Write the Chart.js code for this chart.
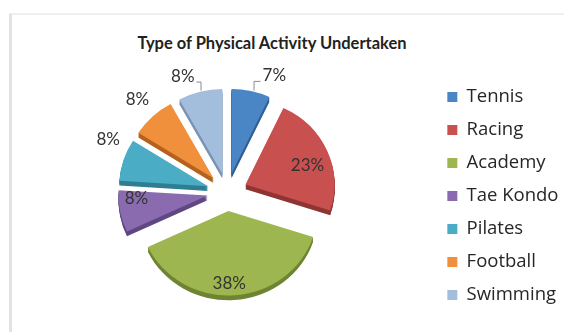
<!DOCTYPE html>
<html>
<head>
<meta charset="utf-8">
<script src="https://cdn.jsdelivr.net/npm/chart.js@4.4.1/dist/chart.umd.min.js"></script>
<style>
  html, body { margin: 0; padding: 0; background: #fff; overflow: hidden; }
  body { width: 564px; height: 332px; position: relative; }
  #frame { position: absolute; left: 9px; top: 13px; width: 560px; height: 330px;
           border-left: 3px solid #e2e2e2; border-top: 2px solid #efefef; box-sizing: border-box; }
  #title { position: absolute; left: 0; top: 33px; width: 544px; text-align: center;
           font: bold 16.5px Lato, 'Open Sans', sans-serif; color: #222; line-height: 20px; }
  #wrap { position: absolute; left: 0; top: 0; width: 580px; height: 332px; }
</style>
</head>
<body>
<div id="frame"></div>
<div id="title">Type of Physical Activity Undertaken</div>
<div id="wrap"><canvas id="c" width="580" height="332"></canvas></div>
<script>
const categories = ["Tennis", "Racing", "Academy", "Tae Kondo", "Pilates", "Football", "Swimming"];
const values = [7, 23, 38, 8, 8, 8, 8];
const valueLabels = ["7%", "23%", "38%", "8%", "8%", "8%", "8%"];
const colors = ["#4a86c5", "#c8504f", "#9db64f", "#8a6bb0", "#4bacc6", "#f0903c", "#a3bedd"];
const sideColors = ["#2f5f94", "#8e3432", "#6f8433", "#5f4781", "#2e7d92", "#b5621f", "#7b93b3"];

// label placement style: distance factor (of radius) and small angular nudge (degrees)
const labelStyle = [
  {dist: 1.25, nudge: 10, leader: "right"},
  {dist: 0.73, nudge: 6},
  {dist: 0.86, nudge: 3},
  {dist: 0.80, nudge: 8},
  {dist: 1.25, nudge: 8},
  {dist: 1.26, nudge: 0.5},
  {dist: 1.23, nudge: -6.7, leader: "left"}
];
const EXPLODE = 20;   // px each slice is pulled out from the centre
const DEPTH = 5;      // px of 3-D side
const TILT = 0.95;    // vertical squash of the 3-D view

function pieCentre(chart) {
  const ca = chart.chartArea;
  return {cx: (ca.left + ca.right) / 2, cy: (ca.top + ca.bottom) / 2};
}

const explodePlugin = {
  id: "explode",
  afterDatasetsUpdate(chart) {
    const {cx, cy} = pieCentre(chart);
    chart.getDatasetMeta(0).data.forEach(arc => {
      const mid = (arc.startAngle + arc.endAngle) / 2;
      arc.x = cx + Math.cos(mid) * EXPLODE;
      arc.y = cy + Math.sin(mid) * EXPLODE;
    });
  },
  beforeDatasetsDraw(chart) {
    const ctx = chart.ctx;
    const {cx, cy} = pieCentre(chart);
    ctx.save();
    ctx.translate(cx, cy);
    ctx.scale(1, TILT);
    ctx.translate(-cx, -cy);
    chart.getDatasetMeta(0).data.forEach((arc, i) => {
      const o = arc.options;
      arc.options = Object.assign({}, o, {backgroundColor: sideColors[i], borderWidth: 0});
      for (let d = 1; d <= DEPTH; d++) {
        ctx.save();
        ctx.translate(0, d);
        arc.draw(ctx);
        ctx.restore();
      }
      arc.options = o;
    });
  },
  afterDatasetsDraw(chart) {
    chart.ctx.restore();
  }
};

const labelPlugin = {
  id: "pctLabels",
  afterDatasetsDraw(chart) {
    const ctx = chart.ctx;
    const {cy} = pieCentre(chart);
    const sy = y => cy + (y - cy) * TILT;
    ctx.save();
    ctx.font = "17px Lato, 'Open Sans', sans-serif";
    ctx.fillStyle = "#333";
    ctx.textAlign = "center";
    ctx.textBaseline = "middle";
    chart.getDatasetMeta(0).data.forEach((arc, i) => {
      const st = labelStyle[i];
      const r = arc.outerRadius;
      const mid = (arc.startAngle + arc.endAngle) / 2;
      const a = mid + st.nudge * Math.PI / 180;
      const lx = arc.x + Math.cos(a) * r * st.dist;
      const ly = sy(arc.y + Math.sin(a) * r * st.dist);
      ctx.fillText(valueLabels[i], lx, ly);
      if (st.leader) {
        const hw = ctx.measureText(valueLabels[i]).width / 2;
        const sx = st.leader === "right" ? lx - hw - 2 : lx + hw + 2;
        const ex = st.leader === "right" ? lx - hw - 9 : lx + hw + 6;
        const ey = sy(arc.y - Math.sqrt(Math.max(r * r - (ex - arc.x) * (ex - arc.x), 0))) - 1;
        ctx.strokeStyle = "#8a8a8a";
        ctx.lineWidth = 1;
        ctx.beginPath();
        ctx.moveTo(sx, ly + 5.5);
        ctx.lineTo(ex + 0.5, ly + 5.5);
        ctx.lineTo(ex + 0.5, ey);
        ctx.stroke();
      }
    });
    ctx.restore();
  }
};

new Chart(document.getElementById("c"), {
  type: "pie",
  data: {
    labels: categories,
    datasets: [{
      data: values,
      backgroundColor: colors,
      borderWidth: 0,
      radius: 89
    }]
  },
  options: {
    responsive: false,
    animation: false,
    layout: { padding: { left: 21.5, right: 11.5, top: 60, bottom: 8 } },
    plugins: {
      title: { display: false },
      legend: {
        position: "right",
        title: { display: true, text: "", font: { size: 1, lineHeight: 1 }, padding: { top: 7, bottom: 0 } },
        labels: {
          boxWidth: 10,
          boxHeight: 10,
          padding: 14.5,
          color: "#262626",
          font: { family: "'Open Sans', sans-serif", size: 18.5 }
        }
      },
      tooltip: { enabled: false }
    }
  },
  plugins: [explodePlugin, labelPlugin]
});
</script>
</body>
</html>
